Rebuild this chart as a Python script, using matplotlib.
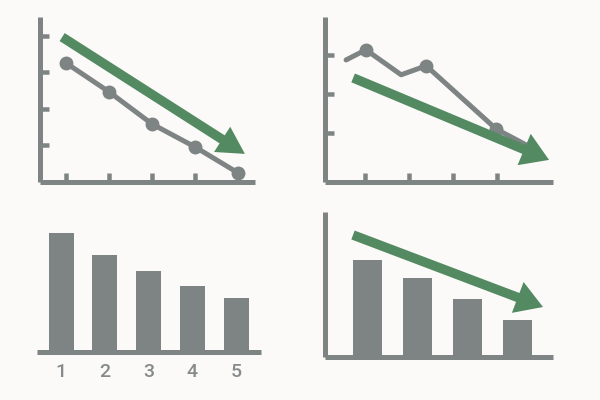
import matplotlib
matplotlib.use("Agg")
import matplotlib.pyplot as plt
from matplotlib.patches import FancyArrowPatch

# ---------------- data ----------------
# panel 1 (top-left): line chart with markers
p1_x = [1, 2, 3, 4, 5]
p1_y = [3.26, 2.47, 1.59, 0.96, 0.25]
p1_xticks = [1, 2, 3, 4]
p1_yticks = [1, 2, 3, 4]
p1_arrow = [(0.91, 3.97), (5.16, 0.77)]

# panel 2 (top-right): jagged line
p2_x = [0.57, 1.02, 1.82, 2.39, 3.98, 4.75]
p2_y = [2.87, 3.13, 2.49, 2.72, 1.10, 0.64]
p2_marked = [1, 3, 4]
p2_xticks = [1, 2, 3, 4]
p2_yticks = [1, 2, 3]
p2_arrow = [(0.73, 2.41), (5.18, 0.31)]

# panel 3 (bottom-left): bars with labels
p3_labels = ["1", "2", "3", "4", "5"]
p3_values = [5.95, 4.85, 4.05, 3.3, 2.7]

# panel 4 (bottom-right): bars with arrow
p4_x = [1, 2, 3, 4]
p4_values = [4.85, 3.95, 2.9, 1.85]
p4_arrow = [(0.71, 6.1), (4.51, 2.5)]

# ---------------- style ----------------
BG = "#fbfaf8"
GRAY = "#7e8484"
LABEL = "#858a8a"
GREEN = "#548a61"
PX = 72 / 100  # points per pixel at dpi 100

fig = plt.figure(figsize=(6, 4), dpi=100, facecolor=BG)


def add_ax(left, top, right, bottom):
    return fig.add_axes([left / 600, 1 - bottom / 400,
                         (right - left) / 600, (bottom - top) / 400])


def style(ax, left=True):
    ax.set_facecolor("none")
    for s in ["top", "right"]:
        ax.spines[s].set_visible(False)
    ax.spines["left"].set_visible(left)
    for s in ["left", "bottom"]:
        ax.spines[s].set_color(GRAY)
        ax.spines[s].set_linewidth(5 * PX)
        ax.spines[s].set_capstyle("butt")
    ax.tick_params(direction="in", length=9 * PX, width=4.5 * PX,
                   color=GRAY, labelleft=False, labelbottom=False)


def arrow(ax, pts, hw=32, hl=27, tw=9.5):
    a = FancyArrowPatch(pts[0], pts[1],
                        arrowstyle=f"simple,head_width={hw*PX},head_length={hl*PX},tail_width={tw*PX}",
                        mutation_scale=1, color=GREEN, shrinkA=0, shrinkB=0,
                        clip_on=False, zorder=5, linewidth=0)
    ax.add_patch(a)


# panel 1
ax1 = add_ax(40, 17, 255, 182)
style(ax1)
ax1.set_xlim(0.395, 5.395)
ax1.set_ylim(0, 4.52)
ax1.set_xticks(p1_xticks)
ax1.set_yticks(p1_yticks)
ax1.plot(p1_x, p1_y, color=GRAY, lw=5 * PX, marker="o", ms=12.5 * PX,
         solid_capstyle="round", clip_on=False, zorder=3)
arrow(ax1, p1_arrow, hw=30)

# panel 2
ax2 = add_ax(325, 17, 553, 182)
style(ax2)
ax2.set_xlim(0.091, 5.27)
ax2.set_ylim(-0.256, 3.97)
ax2.set_xticks(p2_xticks)
ax2.set_yticks(p2_yticks)
ax2.plot(p2_x, p2_y, color=GRAY, lw=5 * PX, solid_capstyle="round",
         solid_joinstyle="round", clip_on=False, zorder=3)
ax2.plot([p2_x[i] for i in p2_marked], [p2_y[i] for i in p2_marked],
         "o", color=GRAY, ms=12.5 * PX, clip_on=False, zorder=3)
arrow(ax2, p2_arrow, hw=34)

# panel 3
ax3 = add_ax(37, 215, 261, 351.5)
style(ax3, left=False)
ax3.set_xlim(0.451, 5.571)
ax3.set_ylim(0, 6.83)
xs3 = range(1, len(p3_values) + 1)
ax3.bar(xs3, p3_values, width=25 / 43.75, color=GRAY, zorder=2)
ax3.set_xticks(list(xs3))
ax3.set_xticklabels(p3_labels)
ax3.set_yticks([])
ax3.tick_params(axis="x", length=0, labelbottom=True, labelsize=14,
                labelcolor=LABEL, pad=8)
for t in ax3.get_xticklabels():
    t.set_fontfamily(["Roboto", "DejaVu Sans"])
    t.set_fontweight("medium")

# panel 4
ax4 = add_ax(325, 212, 553, 357)
style(ax4)
ax4.set_xlim(0.15, 4.71)
ax4.set_ylim(0, 7.25)
ax4.bar(p4_x, p4_values, width=29 / 50, color=GRAY, zorder=2)
ax4.set_xticks([])
ax4.set_yticks([])
arrow(ax4, p4_arrow, hw=33)

fig.savefig("out.png", dpi=100, facecolor=BG)
